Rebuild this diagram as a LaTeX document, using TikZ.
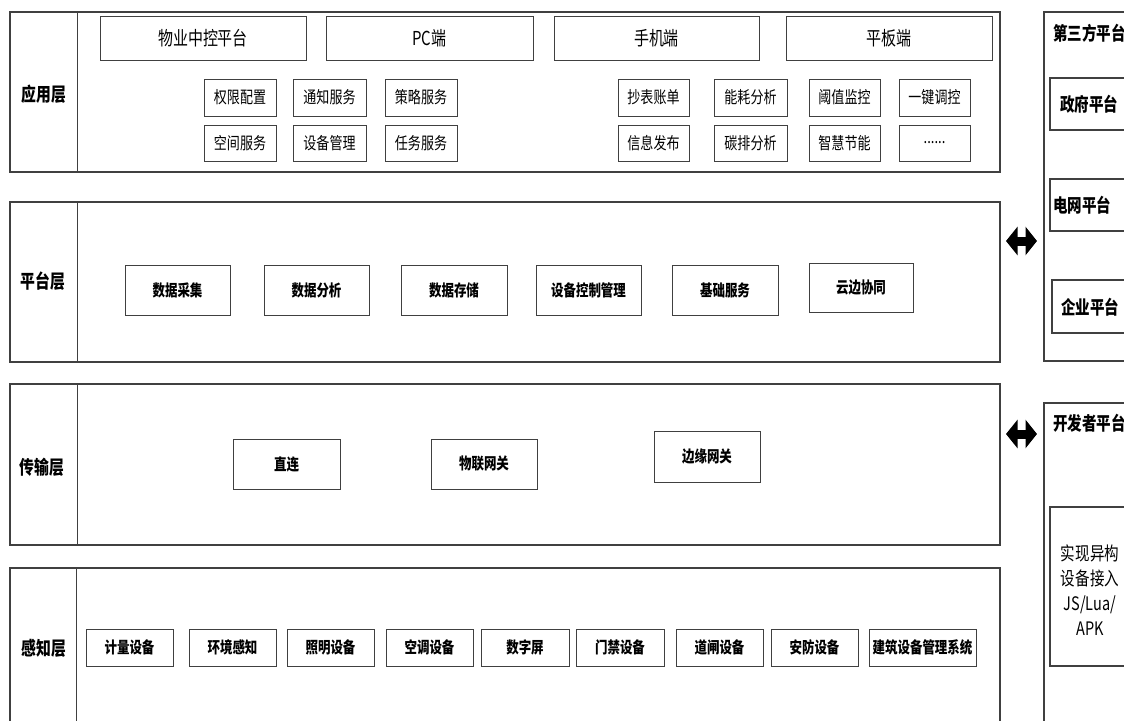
\documentclass[tikz,border=0pt]{standalone}
\usepackage{fontspec}
\setmainfont{Noto Sans CJK SC}[FakeStretch=0.78]
\usetikzlibrary{arrows.meta}
\newcommand\mybox[7][]{\node[#1, minimum width={(#5-#3)*1pt}, minimum height={(#6-#4)*1pt}] (#2) at ({(#3+#5)/2},{(#4+#6)/2}) {#7};}
\begin{document}
\begin{tikzpicture}[x=1pt,y=-1pt,
  layer/.style={draw=black!75,line width=1.2pt,inner sep=0pt},
  div/.style={draw=black!75,line width=1.1pt},
  big/.style={draw=black!75,line width=1pt,inner sep=0pt,font=\fontsize{19.2}{21}\selectfont},
  sm/.style={draw=black!75,line width=1pt,inner sep=0pt,font=\fontsize{16.7}{19}\selectfont},
  bb/.style={draw=black!75,line width=1pt,inner sep=0pt,font=\bfseries\fontsize{16}{18}\selectfont},
  ob/.style={draw=black!75,line width=1.1pt,inner sep=0pt},
  lab/.style={inner sep=0pt,font=\bfseries\fontsize{19}{21}\selectfont},
  tp/.style={inner sep=0pt,anchor=west,font=\bfseries\fontsize{18.6}{21}\selectfont},
  fat/.style={line width=9pt,{Triangle[length=11.5pt,width=28pt]}-{Triangle[length=11.5pt,width=28pt]}}]
\useasboundingbox (0,0) rectangle (1124,720);
\clip (0,0) rectangle (1124,720);
% ---------- application layer
\mybox[layer]{app}{10}{12}{1000}{172}{}
\draw[div] ([xshift=68pt]app.north west) -- ([xshift=68pt]app.south west);
\node[lab] (lapp) at (44,94) {应用层};
\mybox[big]{wy}{100}{16}{306}{60}{物业中控平台}
\mybox[big]{pc}{326}{16}{533}{60}{PC端}
\mybox[big]{sj}{554}{16}{759}{60}{手机端}
\mybox[big]{pb}{786}{16}{992}{60}{平板端}
\mybox[sm]{a1}{204}{79}{276}{116}{权限配置}
\mybox[sm]{a2}{293}{79}{366}{116}{通知服务}
\mybox[sm]{a3}{385}{79}{457}{116}{策略服务}
\mybox[sm]{a4}{618}{79}{689}{116}{抄表账单}
\mybox[sm]{a5}{714}{79}{787}{116}{能耗分析}
\mybox[sm]{a6}{809}{79}{880}{116}{阈值监控}
\mybox[sm]{a7}{899}{79}{970}{116}{一键调控}
\mybox[sm]{b1}{204}{125}{276}{161}{空间服务}
\mybox[sm]{b2}{293}{125}{366}{161}{设备管理}
\mybox[sm]{b3}{385}{125}{457}{161}{任务服务}
\mybox[sm]{b4}{618}{125}{689}{161}{信息发布}
\mybox[sm]{b5}{714}{125}{787}{161}{碳排分析}
\mybox[sm]{b6}{809}{125}{880}{161}{智慧节能}
\mybox[sm]{b7}{899}{125}{970}{161}{......}
% ---------- platform layer
\mybox[layer]{plat}{10}{202}{1000}{362}{}
\draw[div] ([xshift=68pt]plat.north west) -- ([xshift=68pt]plat.south west);
\node[lab] (lplat) at (43,281) {平台层};
\mybox[bb]{p1}{125}{265}{230}{315}{数据采集}
\mybox[bb]{p2}{264}{265}{369}{315}{数据分析}
\mybox[bb]{p3}{401}{265}{507}{315}{数据存储}
\mybox[bb]{p4}{536}{265}{641}{315}{设备控制管理}
\mybox[bb]{p5}{672}{265}{778}{315}{基础服务}
\mybox[bb]{p6}{809}{263}{913}{312}{云边协同}
% ---------- transport layer
\mybox[layer]{trans}{10}{384}{1000}{545}{}
\draw[div] ([xshift=68pt]trans.north west) -- ([xshift=68pt]trans.south west);
\node[lab] (ltr) at (42,467) {传输层};
\mybox[bb]{t1}{233}{439}{340}{489}{直连}
\mybox[bb]{t2}{431}{439}{537}{489}{物联网关}
\mybox[bb]{t3}{654}{431}{760}{482}{边缘网关}
% ---------- perception layer
\mybox[layer]{perc}{10}{568}{1000}{740}{}
\draw[div] ([xshift=67pt]perc.north west) -- ([xshift=67pt]perc.south west);
\node[lab] (lper) at (44,648) {感知层};
\mybox[bb]{s1}{86}{629}{173}{666}{计量设备}
\mybox[bb]{s2}{189}{629}{276}{666}{环境感知}
\mybox[bb]{s3}{287}{629}{374}{666}{照明设备}
\mybox[bb]{s4}{386}{629}{473}{666}{空调设备}
\mybox[bb]{s5}{481}{629}{569}{666}{数字屏}
\mybox[bb]{s6}{576}{629}{664}{666}{门禁设备}
\mybox[bb]{s7}{676}{629}{763}{666}{道闸设备}
\mybox[bb]{s8}{771}{629}{858}{666}{安防设备}
\mybox[bb]{s9}{869}{629}{976}{666}{建筑设备管理系统}
% ---------- third-party platforms
\mybox[ob]{third}{1044}{12}{1140}{361}{}
\node[tp] (thirdl) at (1053,33) {第三方平台};
\mybox[ob]{gov}{1050}{78}{1140}{130}{}
\node[tp] (govl) at (1060,104) {政府平台};
\mybox[ob]{grid}{1050}{179}{1140}{231}{}
\node[tp] (gridl) at (1053,205) {电网平台};
\mybox[ob]{ent}{1052}{280}{1140}{333}{}
\node[tp] (entl) at (1061,307) {企业平台};
% ---------- developer platform
\mybox[ob]{dev}{1044}{403}{1140}{740}{}
\node[tp] (devl) at (1053,423) {开发者平台};
\mybox[ob]{devin}{1050}{507}{1140}{666}{}
\node[inner sep=0pt,align=center,font=\fontsize{18.6}{25}\selectfont] (devt) at (1090,590) {实现异构\\设备接入\\JS/Lua/\\APK};
% ---------- arrows
\coordinate (u1) at (1006,241);
\coordinate (u2) at (1037,241);
\coordinate (v1) at (1006,434);
\coordinate (v2) at (1037,434);
\draw[fat] (u1) -- (u2);
\draw[fat] (v1) -- (v2);
\end{tikzpicture}
\end{document}
